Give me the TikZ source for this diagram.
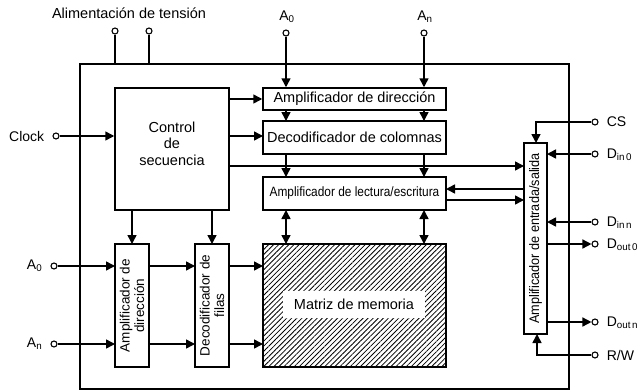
\documentclass[tikz,border=0pt]{standalone}
\usepackage{fontspec}
\setmainfont{Liberation Sans}
\usetikzlibrary{arrows.meta,patterns.meta}
\begin{document}
\begin{tikzpicture}[x=1pt,y=-1pt,line width=1.5pt,
  box/.style={draw,line width=1.5pt,inner sep=0pt,font=\fontsize{14.5}{17}\selectfont},
  vbox/.style={box,font=\fontsize{13.5}{14.5}\selectfont,align=center},
  arr/.style={-{Triangle[length=9pt,width=9pt]}},
  darr/.style={{Triangle[length=9pt,width=9pt]}-{Triangle[length=9pt,width=9pt]}},
  pin/.style={circle,draw,fill=white,line width=1.1pt,inner sep=0pt,minimum size=6pt},
  lbl/.style={font=\fontsize{14}{16}\selectfont,inner sep=0pt}]
\useasboundingbox (0,0) rectangle (640,391);
% outer frame
\draw (80,64) rectangle (569,389);
% blocks
\node[box,minimum width=114pt,minimum height=122pt] (ctrl) at (172,149) {};
\node[lbl,align=center,font=\fontsize{14.5}{16.5}\selectfont] (ctrltxt) at (172,143.5) {Control\\de\\secuencia};
\node[box,minimum width=183pt,minimum height=22pt] (ampdir) at (354.5,99) {Amplificador de dirección};
\node[box,minimum width=183pt,minimum height=33pt] (deccol) at (354.5,137.5) {Decodificador de colomnas};
\node[box,minimum width=183pt,minimum height=33pt] (amplec) at (354.5,193.5) {\scalebox{0.88}[1]{\fontsize{13.5}{15}\selectfont Amplificador de lectura/escritura}};
\node[box,minimum width=183pt,minimum height=123pt,pattern={Lines[angle=45,distance=3.6pt,line width=0.8pt]}] (matriz) at (354.5,305.5) {};
\node[fill=white,minimum width=142pt,minimum height=27pt,inner sep=0pt,font=\fontsize{14.5}{16}\selectfont] (matriztxt) at (354,304.5) {Matriz de memoria};
\node[vbox,minimum width=123pt,minimum height=34pt,rotate=90] (ampdirf) at (132,305.5) {Amplificador de\\dirección};
\node[vbox,minimum width=123pt,minimum height=34pt,rotate=90] (decfil) at (212,305.5) {Decodificador de\\filas};
\node[box,minimum width=191pt,minimum height=23pt,rotate=90] (io) at (535.5,238.5) {\scalebox{0.92}[1]{\fontsize{13.8}{15}\selectfont Amplificador de entrada/salida}};
% power supply
\node[lbl,font=\fontsize{14.5}{16}\selectfont] (alim) at (129,13) {Alimentación de tensión};
\node[pin] (v1) at (115,31) {};
\node[pin] (v2) at (149,31) {};
\coordinate (f1) at (115,64);
\coordinate (f2) at (149,64);
\draw (v1) -- (f1);
\draw (v2) -- (f2);
% top address pins
\node[lbl] (a0tl) at (287,17) {A\textsubscript{0}};
\node[lbl] (antl) at (425,17) {A\textsubscript{n}};
\node[pin] (a0t) at (286,33) {};
\node[pin] (ant) at (424,33) {};
\draw[arr] (a0t) -- (a0t |- ampdir.north);
\draw[arr] (ant) -- (ant |- ampdir.north);
\draw[arr] (286,110) -- (286,121);
\draw[arr] (424,110) -- (424,121);
\draw[arr] (286,154) -- (286,177);
\draw[arr] (424,154) -- (424,177);
\draw[darr] (286,210) -- (286,244);
\draw[darr] (424,210) -- (424,244);
% control outputs
\draw[arr] (ctrl.east |- ampdir) -- (ampdir.west);
\draw[arr] (229,136) -- (263,136);
\draw[arr] (229,166) -- (524,166);
\draw[arr] (132,210) -- (132,244);
\draw[arr] (212,210) -- (212,244);
% read/write <-> io
\draw[arr] (524,189) -- (446,189);
\draw[arr] (446,200) -- (524,200);
% clock
\node[lbl,anchor=east] (clkl) at (45,136) {Clock};
\node[pin] (clk) at (56,136) {};
\draw[arr] (clk) -- (clk -| ctrl.west);
% left address pins
\node[lbl,anchor=east] (a0l) at (43,266) {A\textsubscript{0}};
\node[lbl,anchor=east] (anl) at (43,344) {A\textsubscript{n}};
\node[pin] (a0) at (54,266) {};
\node[pin] (an) at (54,344) {};
\draw[arr] (a0) -- (115,266);
\draw[arr] (an) -- (115,344);
\draw[arr] (149,266) -- (195,266);
\draw[arr] (149,344) -- (195,344);
\draw[arr] (229,266) -- (263,266);
\draw[arr] (229,344) -- (263,344);
% right side pins
\node[pin] (cs) at (595,122) {};
\node[pin] (din0) at (595,154) {};
\node[pin] (dinn) at (595,222) {};
\node[pin] (dout0) at (595,244) {};
\node[pin] (doutn) at (595,322) {};
\node[pin] (rw) at (595,355) {};
\node[lbl,anchor=west] (csl) at (606,122) {CS};
\node[lbl,anchor=west] (din0l) at (606,155) {D\textsubscript{in\,0}};
\node[lbl,anchor=west] (dinnl) at (606,223) {D\textsubscript{in\,n}};
\node[lbl,anchor=west] (dout0l) at (606,245) {D\textsubscript{out\,0}};
\node[lbl,anchor=west] (doutnl) at (606,323) {D\textsubscript{out\,n}};
\node[lbl,anchor=west] (rwl) at (606,355) {R/W};
\draw[arr] (cs) -| (536,143);
\draw[arr] (din0) -- (547,154);
\draw[arr] (dinn) -- (547,222);
\draw[arr] (547,244) -- (dout0);
\draw[arr] (547,322) -- (doutn);
\draw[arr] (rw) -| (537,334);
\end{tikzpicture}
\end{document}
